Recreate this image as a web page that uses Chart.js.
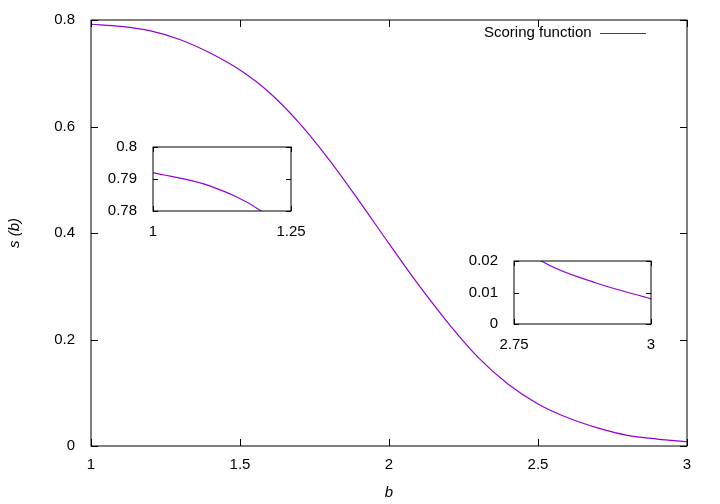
<!DOCTYPE html>
<html><head><meta charset="utf-8">
<script src="https://cdn.jsdelivr.net/npm/chart.js@4.4.0/dist/chart.umd.min.js"></script>
<style>
body{margin:0;background:#fff;width:720px;height:504px;position:relative;overflow:hidden;font-family:"Liberation Sans",Arial,sans-serif}
canvas{position:absolute}
#legend{position:absolute;left:484px;top:23px;font-size:15px;color:#000}
#legend span{display:inline-block;width:46px;height:1px;background:#9400d3;vertical-align:middle;margin-left:8px}
</style></head><body>
<canvas id="main" style="left:0;top:0" width="720" height="504"></canvas>
<canvas id="in1" style="left:103px;top:130px" width="208" height="107"></canvas>
<canvas id="in2" style="left:464px;top:244px" width="207" height="106"></canvas>
<div id="legend">Scoring function<span></span></div>
<script>
const bValues = [1.0,1.1,1.2,1.3,1.4,1.5,1.6,1.7,1.8,1.9,2.0,2.1,2.2,2.3,2.4,2.5,2.6,2.7,2.8,2.9,3.0];
const sValues = [0.792,0.788,0.7795,0.763,0.738,0.706,0.663,0.606,0.537,0.460,0.380,0.302,0.230,0.166,0.116,0.079,0.053,0.034,0.020,0.013,0.008];
const mainXTicks = [1,1.5,2,2.5,3];
const mainYTicks = [0,0.2,0.4,0.6,0.8];
const inset1XTicks = [1,1.25];
const inset1YTicks = [0.78,0.79,0.8];
const inset2XTicks = [2.75,3];
const inset2YTicks = [0,0.01,0.02];

const points = bValues.map((b, i) => ({ x: b, y: sValues[i] }));
const FONT = { family: "Liberation Sans, Arial, sans-serif", size: 15 };

const boxPlugin = {
  id: "box",
  afterDraw(chart) {
    const { ctx, chartArea: a, scales } = chart;
    const tl = chart.options.plugins.box.tick;
    ctx.save();
    ctx.strokeStyle = "#000";
    ctx.lineWidth = 1;
    ctx.strokeRect(a.left, a.top, a.right - a.left, a.bottom - a.top);
    ctx.beginPath();
    scales.x.ticks.forEach(t => {
      const px = Math.round(scales.x.getPixelForValue(t.value)) + 0.5;
      ctx.moveTo(px, a.bottom); ctx.lineTo(px, a.bottom - tl);
      ctx.moveTo(px, a.top); ctx.lineTo(px, a.top + tl);
    });
    scales.y.ticks.forEach(t => {
      const py = Math.round(scales.y.getPixelForValue(t.value)) + 0.5;
      ctx.moveTo(a.left, py); ctx.lineTo(a.left + tl, py);
      ctx.moveTo(a.right, py); ctx.lineTo(a.right - tl, py);
    });
    ctx.stroke();
    ctx.restore();
  }
};

function makeChart(id, xTicks, yTicks, yw, xh, pad, tick, titles, tpad) {
  const fixed = (list) => (axis) => { axis.ticks = list.map(v => ({ value: v })); };
  return new Chart(document.getElementById(id), {
    type: "line",
    data: { datasets: [{ data: points, borderColor: "#9400d3", borderWidth: 1.2, pointRadius: 0, tension: 0.4, cubicInterpolationMode: "monotone" }] },
    options: {
      responsive: false, animation: false,
      layout: { padding: pad },
      plugins: { legend: { display: false }, tooltip: { enabled: false }, box: { tick } },
      scales: {
        x: {
          type: "linear", min: xTicks[0], max: xTicks[xTicks.length - 1],
          afterBuildTicks: fixed(xTicks),
          afterFit: (s) => { s.height = xh; },
          grid: { display: false }, border: { display: false },
          ticks: { color: "#000", font: FONT, maxRotation: 0, padding: tpad, callback: v => String(v) },
          title: titles ? { display: true, text: "b", color: "#000", font: { ...FONT, style: "italic" }, padding: 2 } : { display: false }
        },
        y: {
          type: "linear", min: yTicks[0], max: yTicks[yTicks.length - 1],
          afterBuildTicks: fixed(yTicks),
          afterFit: (s) => { s.width = yw; },
          grid: { display: false }, border: { display: false },
          ticks: { color: "#000", font: FONT, padding: 8, callback: v => String(v) },
          title: titles ? { display: true, text: "s (b)", color: "#000", font: { ...FONT, style: "italic" }, padding: 6 } : { display: false }
        }
      }
    },
    plugins: [boxPlugin]
  });
}

makeChart("main", mainXTicks, mainYTicks, 91, 58, { top: 20, right: 33, left: 0, bottom: 0 }, 7, true, 2);
makeChart("in1", inset1XTicks, inset1YTicks, 50, 26, { top: 8, right: 20, left: 0, bottom: 0 }, 5, false, 4);
makeChart("in2", inset2XTicks, inset2YTicks, 50, 26, { top: 8, right: 20, left: 0, bottom: 0 }, 5, false, 4);
</script>
</body></html>
